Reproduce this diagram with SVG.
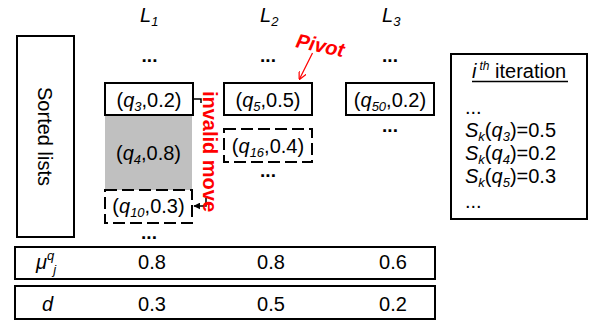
<svg xmlns="http://www.w3.org/2000/svg" width="590" height="324" viewBox="0 0 590 324">
<defs>
<style>
.t{font-family:"Liberation Sans",Arial,sans-serif;font-size:20px;fill:#000}
.i{font-style:italic}
.sub{font-size:13px;font-style:italic}
.box{fill:#fff;stroke:#000;stroke-width:2}
.dash{fill:#fff;stroke:#000;stroke-width:2;stroke-dasharray:12 5}
.dots{font-weight:bold;font-size:19px}
.red{fill:#f00;font-weight:bold}
.conn{fill:none;stroke:#000;stroke-width:1.5}
</style>
<marker id="ah" viewBox="0 0 10 10" refX="9" refY="5" markerWidth="7" markerHeight="7" markerUnits="userSpaceOnUse" orient="auto">
<path d="M0,0 L10,5 L0,10 z" fill="#000"/>
</marker>
<marker id="ahr" viewBox="0 0 10 10" refX="9" refY="5" markerWidth="8" markerHeight="8" markerUnits="userSpaceOnUse" orient="auto">
<path d="M0,0 L10,5 L0,10" fill="none" stroke="#f00" stroke-width="1.5"/>
</marker>
</defs>
<rect width="590" height="324" fill="#fff"/>

<!-- column headers -->
<g id="headers">
<text class="t i" x="140" y="22" font-size="23">L<tspan class="sub" dy="4" font-size="14">1</tspan></text>
<text class="t i" x="260" y="22" font-size="23">L<tspan class="sub" dy="4" font-size="14">2</tspan></text>
<text class="t i" x="382" y="22" font-size="23">L<tspan class="sub" dy="4" font-size="14">3</tspan></text>
<text class="t dots" x="149.5" y="62" text-anchor="middle">...</text>
<text class="t dots" x="268" y="62" text-anchor="middle">...</text>
<text class="t dots" x="390" y="62" text-anchor="middle">...</text>
</g>

<g id="sorted-lists">
<rect class="box" x="17" y="36" width="57" height="201"/>
<text class="t" transform="translate(38,136.5) rotate(90)" text-anchor="middle">Sorted lists</text>
</g>

<g id="n-q3">
<rect class="box" x="105" y="83" width="88" height="32"/>
<text class="t" x="149" y="107" text-anchor="middle">(<tspan class="i">q</tspan><tspan class="sub" dy="4">3</tspan><tspan dy="-4">,0.2)</tspan></text>
</g>
<g id="n-q4">
<rect x="105" y="116" width="87" height="74" fill="#c0c0c0"/>
<text class="t" x="148.5" y="160" text-anchor="middle">(<tspan class="i">q</tspan><tspan class="sub" dy="4">4</tspan><tspan dy="-4">,0.8)</tspan></text>
</g>
<g id="n-q10">
<rect class="dash" x="105" y="190" width="87" height="33"/>
<text class="t" x="148.5" y="213" text-anchor="middle">(<tspan class="i">q</tspan><tspan class="sub" dy="4">10</tspan><tspan dy="-4">,0.3)</tspan></text>
<text class="t dots" x="149" y="239" text-anchor="middle">...</text>
</g>
<g id="n-q5">
<rect class="box" x="224" y="83" width="88" height="32"/>
<text class="t" x="268" y="107" text-anchor="middle">(<tspan class="i">q</tspan><tspan class="sub" dy="4">5</tspan><tspan dy="-4">,0.5)</tspan></text>
</g>
<g id="n-q16">
<rect class="dash" x="224" y="129" width="88" height="33"/>
<text class="t" x="268" y="152.5" text-anchor="middle">(<tspan class="i">q</tspan><tspan class="sub" dy="4">16</tspan><tspan dy="-4">,0.4)</tspan></text>
<text class="t dots" x="268" y="177" text-anchor="middle">...</text>
</g>
<g id="n-q50">
<rect class="box" x="346" y="83" width="88" height="32"/>
<text class="t" x="390" y="107" text-anchor="middle">(<tspan class="i">q</tspan><tspan class="sub" dy="4">50</tspan><tspan dy="-4">,0.2)</tspan></text>
<text class="t dots" x="390" y="132" text-anchor="middle">...</text>
</g>

<g id="connectors">
<path class="conn" d="M193,99 H201 V150 H206 V206 H194" marker-end="url(#ah)"/>
<line x1="312.5" y1="53" x2="299.5" y2="79" stroke="#f00" stroke-width="1.3" marker-end="url(#ahr)"/>
</g>

<g id="label-invalid">
<rect x="199.5" y="103" width="15" height="95" fill="#fff"/>
<text class="t red" font-size="15.5" transform="translate(202.5,151.5) rotate(90)" text-anchor="middle">invalid move</text>
</g>
<g id="label-pivot">
<text class="t red i" font-size="18.5" transform="translate(295,47) rotate(12)">Pivot</text>
</g>

<g id="iteration">
<rect class="box" x="451" y="54" width="136" height="165"/>
<text class="t" x="472" y="78"><tspan class="i">i</tspan><tspan class="i" font-size="12" dx="3" dy="-8">th</tspan><tspan dy="8"> iteration</tspan></text>
<line x1="472" y1="81.5" x2="568" y2="81.5" stroke="#000" stroke-width="1.3"/>
<text class="t" x="465" y="114">...</text>
<text class="t" x="465" y="137"><tspan class="i">S</tspan><tspan class="sub" dy="4">k</tspan><tspan dy="-4">(</tspan><tspan class="i">q</tspan><tspan class="sub" dy="4">3</tspan><tspan dy="-4">)=0.5</tspan></text>
<text class="t" x="465" y="160"><tspan class="i">S</tspan><tspan class="sub" dy="4">k</tspan><tspan dy="-4">(</tspan><tspan class="i">q</tspan><tspan class="sub" dy="4">4</tspan><tspan dy="-4">)=0.2</tspan></text>
<text class="t" x="465" y="183"><tspan class="i">S</tspan><tspan class="sub" dy="4">k</tspan><tspan dy="-4">(</tspan><tspan class="i">q</tspan><tspan class="sub" dy="4">5</tspan><tspan dy="-4">)=0.3</tspan></text>
<text class="t" x="465" y="208">...</text>
</g>

<g id="row-mu">
<rect class="box" x="15" y="247" width="420" height="32"/>
<text class="t" x="36" y="269"><tspan class="i">μ</tspan><tspan class="sub" dy="-9">q</tspan><tspan class="sub" dx="-1" dy="14">j</tspan></text>
<text class="t" x="152" y="269" text-anchor="middle">0.8</text>
<text class="t" x="271" y="269" text-anchor="middle">0.8</text>
<text class="t" x="393" y="269" text-anchor="middle">0.6</text>
</g>
<g id="row-d">
<rect class="box" x="15" y="286" width="420" height="33"/>
<text class="t i" x="42" y="311">d</text>
<text class="t" x="152" y="311" text-anchor="middle">0.3</text>
<text class="t" x="271" y="311" text-anchor="middle">0.5</text>
<text class="t" x="393" y="311" text-anchor="middle">0.2</text>
</g>
</svg>
